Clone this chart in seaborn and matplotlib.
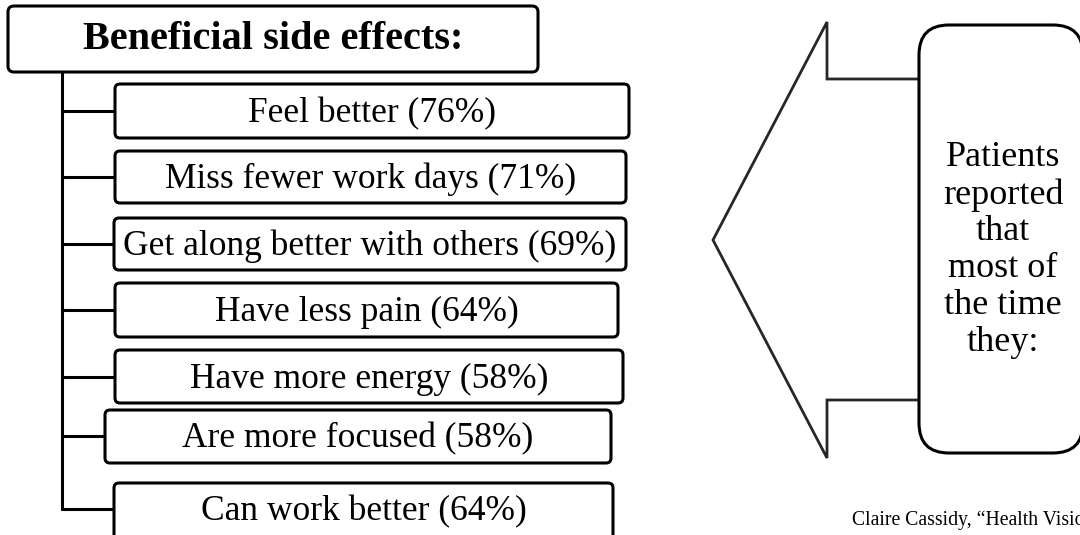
import matplotlib
matplotlib.use("Agg")
import matplotlib.pyplot as plt
from matplotlib.patches import FancyBboxPatch
import seaborn as sns

# data
title = "Beneficial side effects:"
effects = ["Feel better", "Miss fewer work days", "Get along better with others",
           "Have less pain", "Have more energy", "Are more focused", "Can work better"]
pcts = [76, 71, 69, 64, 58, 58, 64]
side_text = "Patients\nreported\nthat\nmost of\nthe time\nthey:"
source = "Claire Cassidy, \u201cHealth Visions\u201d"

# layout in pixels (left, top, right, bottom)
box_lefts = [115, 115, 114, 115, 115, 105, 114]
box_rights = [629, 626, 626, 618, 623, 611, 613]
box_tops = [84, 151, 218, 283, 350, 410, 483]
box_bots = [138, 203, 270, 337, 403, 463, 540]
branch_y = [111, 177, 244, 310, 377, 436, 509]

sns.set_theme(style="white")
plt.rcParams['font.family'] = ['Liberation Serif', 'DejaVu Serif']
plt.rcParams['text.color'] = 'black'

fig = plt.figure(figsize=(10.8, 5.35), dpi=100)
ax = fig.add_axes([0, 0, 1, 1])
ax.set_xlim(0, 1080)
ax.set_ylim(535, 0)
ax.axis("off")

lw = 2.2

def rbox(l, t, r, b, rad, lw, ec="black", z=2):
    p = FancyBboxPatch((l, t), r - l, b - t, boxstyle=f"round,pad=0,rounding_size={rad}",
                       fc="white", ec=ec, lw=lw, zorder=z)
    ax.add_patch(p)

# header
rbox(8, 6, 538, 72, 6, lw)
ax.text(273, 49, title, ha="center", va="baseline", fontsize=29, fontweight="bold", zorder=3)

# trunk + branches
sns.lineplot(x=[62, 62], y=[72, branch_y[-1]], color="black", lw=lw, ax=ax,
             sort=False, estimator=None, zorder=1)
for i, lab in enumerate(effects):
    ax.plot([62, box_lefts[i]], [branch_y[i], branch_y[i]], color="black", lw=lw, zorder=1)
    rbox(box_lefts[i], box_tops[i], box_rights[i], box_bots[i], 5, lw)
    ax.text((box_lefts[i] + box_rights[i]) / 2, branch_y[i] + 11, f"{lab} ({pcts[i]}%)",
            ha="center", va="baseline", fontsize=25.5, zorder=3)

# arrow
ax.plot([919, 827, 827, 713, 827, 827, 919], [79, 79, 22, 240, 458, 400, 400],
        color="#262626", lw=2.0, zorder=1, solid_joinstyle="miter")
rbox(919, 25, 1083, 453, 30, lw)
ax.text(1003, 250, side_text, ha="center", va="center", fontsize=26,
        linespacing=1.15, zorder=3)

# source note, clipped at the right edge as in the original
ax.text(852, 525, source, ha="left", va="baseline", fontsize=14.2, zorder=3)

fig.savefig("out.png", dpi=100)
